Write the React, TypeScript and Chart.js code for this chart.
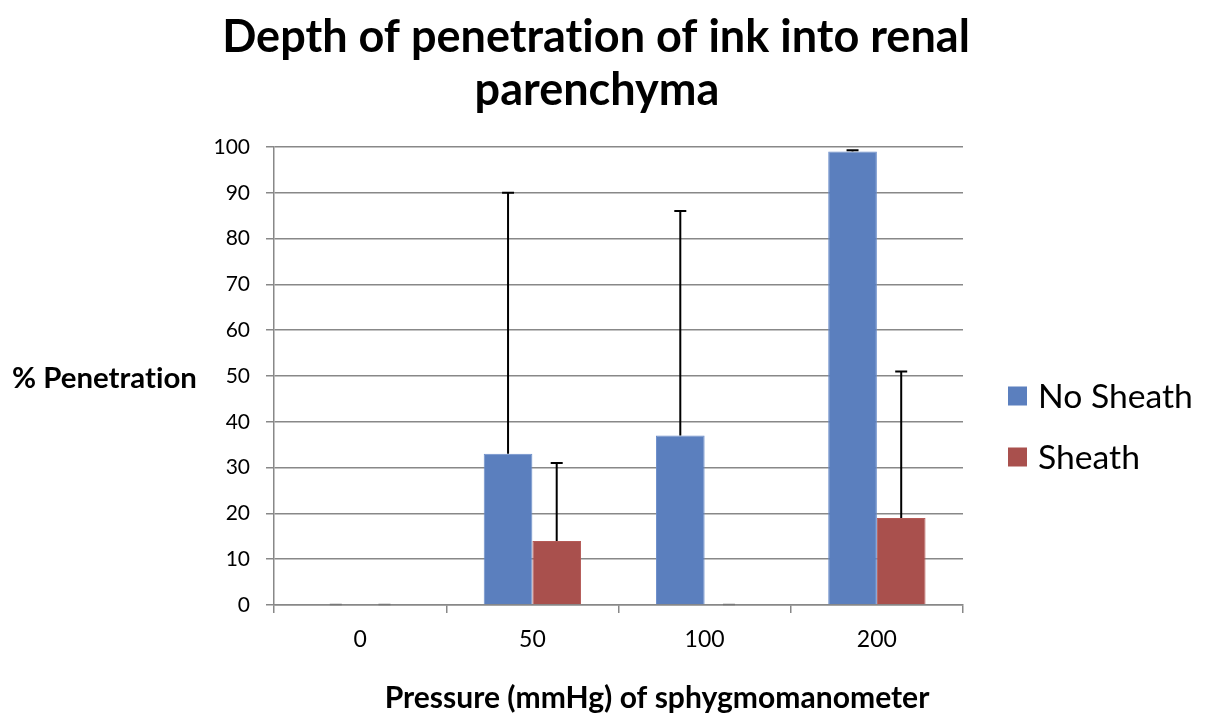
import React, { useEffect, useRef } from "react";
import { Chart, registerables } from "chart.js";

Chart.register(...registerables);

const categories = ["0", "50", "100", "200"];
const noSheath = [0, 33, 37, 99];
const sheath = [0, 14, 0, 19];
const noSheathErr = [0, 57, 49, 0.3];
const sheathErr = [0, 17, 0, 32];
const yTicks = [0, 10, 20, 30, 40, 50, 60, 70, 80, 90, 100];
const titleLines = ["Depth of penetration of ink into renal", "parenchyma"];
const yTitle = "% Penetration";
const xTitle = "Pressure (mmHg) of sphygmomanometer";
const seriesNames = ["No Sheath", "Sheath"];
const seriesColors = ["#5b7fbe", "#a9504d"];
const seriesBorders = ["#6b8dca", "#b55a56"];

const FONT = "Lato, 'Open Sans', sans-serif";

const errorBars = {
  id: "errorBars",
  afterDatasetsDraw(chart: any) {
    const ctx = chart.ctx;
    const y = chart.scales.y;
    const errs = [noSheathErr, sheathErr];
    ctx.save();
    chart.data.datasets.forEach((ds: any, di: number) => {
      const meta = chart.getDatasetMeta(di);
      meta.data.forEach((el: any, i: number) => {
        const v = ds.data[i];
        const e = errs[di][i];
        const x = el.x;
        const yTop = y.getPixelForValue(v + e);
        const yBase = y.getPixelForValue(v);
        if (v === 0 && e === 0) {
          ctx.strokeStyle = "#777";
          ctx.lineWidth = 1.5;
          ctx.beginPath();
          ctx.moveTo(x - 6, yBase - 0.5);
          ctx.lineTo(x + 6, yBase - 0.5);
          ctx.stroke();
          return;
        }
        ctx.strokeStyle = "#000";
        ctx.lineWidth = 2;
        ctx.beginPath();
        ctx.moveTo(x, yBase);
        ctx.lineTo(x, yTop);
        ctx.moveTo(x - 6, yTop);
        ctx.lineTo(x + 6, yTop);
        ctx.stroke();
      });
    });
    ctx.restore();
  },
};

function fitText(ctx: any, text: string, weight: string, target: number, base: number) {
  ctx.font = `${weight} ${base}px ${FONT}`;
  const w = ctx.measureText(text).width;
  const size = (base * target) / w;
  ctx.font = `${weight} ${size}px ${FONT}`;
}

const overlay = {
  id: "overlay",
  afterDraw(chart: any) {
    const ctx = chart.ctx;
    ctx.save();
    try {
      ctx.textRendering = "optimizeSpeed";
      ctx.letterSpacing = "0.01px";
    } catch (e) {}
    ctx.fillStyle = "#000";
    ctx.textBaseline = "middle";
    ctx.textAlign = "center";
    fitText(ctx, titleLines[0], "bold", 748, 40);
    ctx.fillText(titleLines[0], 596, 37);
    ctx.fillText(titleLines[1], 597, 90);

    ctx.textAlign = "left";
    fitText(ctx, yTitle, "bold", 185, 28);
    ctx.fillText(yTitle, 12, 379);

    ctx.textAlign = "center";
    fitText(ctx, xTitle, "bold", 545, 28);
    ctx.fillText(xTitle, 657, 698);

    fitText(ctx, seriesNames[0], "normal", 155, 32);
    ctx.textAlign = "left";
    const legendY = [396, 457];
    seriesNames.forEach((n, i) => {
      ctx.fillStyle = seriesColors[i];
      ctx.fillRect(1008, legendY[i] - 9.5, 19, 19);
      ctx.fillStyle = "#000";
      ctx.fillText(n, 1038, legendY[i] + 1);
    });
    ctx.restore();
  },
};

export default function App() {
  const ref = useRef<HTMLCanvasElement | null>(null);
  useEffect(() => {
    if (!ref.current) return;
    const chart = new Chart(ref.current, {
      type: "bar",
      data: {
        labels: categories,
        datasets: [
          {
            label: seriesNames[0],
            data: noSheath,
            backgroundColor: seriesColors[0],
            borderColor: seriesBorders[0],
            borderWidth: 1,
            categoryPercentage: 0.565,
            barPercentage: 1.0,
          },
          {
            label: seriesNames[1],
            data: sheath,
            backgroundColor: seriesColors[1],
            borderColor: seriesBorders[1],
            borderWidth: 1,
            categoryPercentage: 0.565,
            barPercentage: 1.0,
          },
        ],
      },
      options: {
        animation: false,
        responsive: false,
        maintainAspectRatio: false,
        layout: { padding: { top: 147, left: 0, right: 242, bottom: 63 } },
        plugins: {
          legend: { display: false },
          title: { display: false },
          tooltip: { enabled: false },
        },
        scales: {
          x: {
            grid: {
              drawOnChartArea: false,
              offset: true,
              tickLength: 8,
              color: "#888",
              lineWidth: 1.5,
            },
            border: { color: "#888", width: 1.5 },
            ticks: {
              color: "#000",
              font: { family: FONT, size: 23 },
              padding: 13,
            },
            afterFit: (s: any) => {
              s.height = 50;
            },
          },
          y: {
            min: 0,
            max: 100,
            afterBuildTicks: (s: any) => {
              s.ticks = yTicks.map((v) => ({ value: v }));
            },
            grid: { color: "#888", lineWidth: 1.5, tickLength: 8 },
            border: { color: "#888", width: 1.5 },
            ticks: {
              color: "#000",
              font: { family: FONT, size: 21 },
              padding: 16,
            },
            afterFit: (s: any) => {
              s.width = 274;
            },
          },
        },
      },
      plugins: [errorBars, overlay],
    });
    return () => chart.destroy();
  }, []);
  return (
    <div style={{ position: "fixed", left: 0, top: 0, width: 1205, height: 718, background: "#fff" }}>
      <canvas ref={ref} width={1205} height={718} style={{ width: 1205, height: 718, display: "block" }} />
    </div>
  );
}
